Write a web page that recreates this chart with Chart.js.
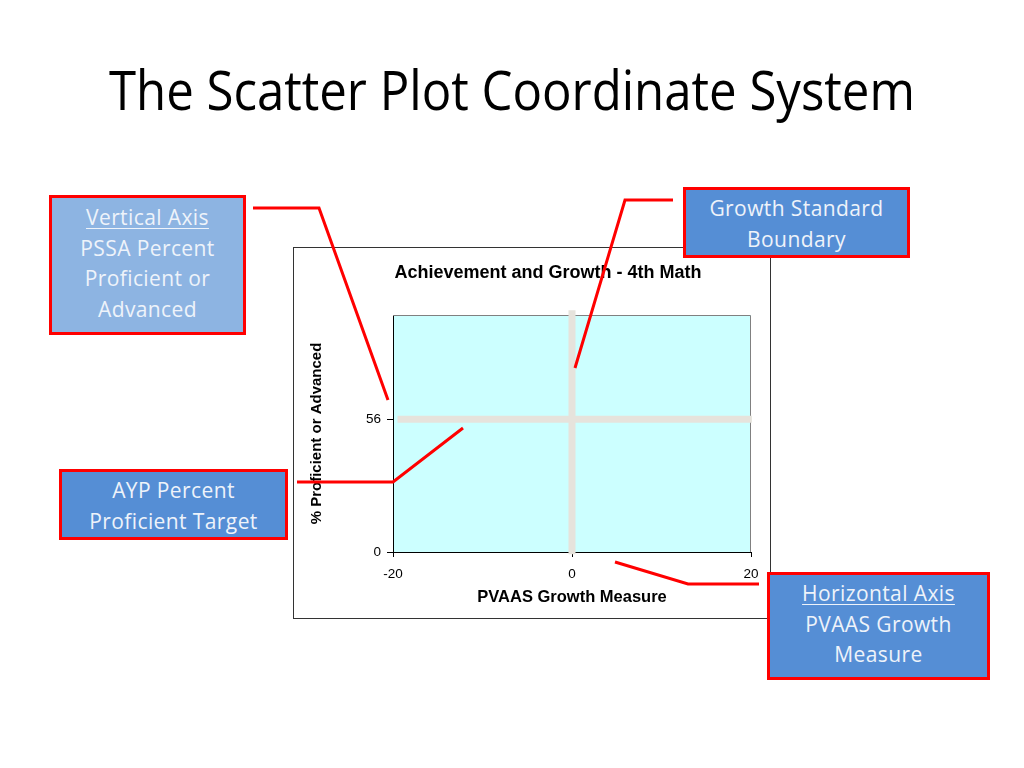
<!DOCTYPE html>
<html>
<head>
<meta charset="utf-8">
<script src="https://cdn.jsdelivr.net/npm/chart.js@4.4.1/dist/chart.umd.min.js"></script>
<style>
  body { margin: 0; background: #fff; }
  #slide { position: relative; width: 1024px; height: 768px; overflow: hidden; background: #fff; font-family: 'Open Sans', sans-serif; }
  #title { position: absolute; left: 0; width: 1024px; top: 62px; text-align: center; font-size: 54px; line-height: 1; color: #000; white-space: nowrap; }
  #title span { display: inline-block; transform-origin: center; }
  #chartBox { position: absolute; left: 293px; top: 247px; width: 476px; height: 370px; border: 1px solid #333; background: #fff; }
  .callout { position: absolute; box-sizing: border-box; border: 3px solid #f00; background: #558ed5; color: #eef3fa;
             display: flex; flex-direction: column; justify-content: center; align-items: center;
             font-size: 21px; letter-spacing: 0.4px; line-height: 30.5px; text-align: center; white-space: nowrap; }
  .callout u { text-decoration-thickness: 1px; text-underline-offset: 3px; }
  #arrows { position: absolute; left: 0; top: 0; }
</style>
</head>
<body>
<div id="slide">
  <div id="title"><span>The Scatter Plot Coordinate System</span></div>

  <div id="chartBox"><canvas id="scatterChart" width="476" height="370"></canvas></div>

  <div class="callout" style="left:49px; top:195px; width:197px; height:140px; padding-bottom:4px; background:#8db4e2;">
    <div><u>Vertical Axis</u></div><div>PSSA Percent</div><div>Proficient or</div><div>Advanced</div>
  </div>
  <div class="callout" style="left:683px; top:187px; width:227px; height:71px; padding-top:2px;">
    <div>Growth Standard</div><div>Boundary</div>
  </div>
  <div class="callout" style="left:59px; top:469px; width:229px; height:71px; padding-top:2px;">
    <div>AYP Percent</div><div>Proficient Target</div>
  </div>
  <div class="callout" style="left:767px; top:572px; width:223px; height:108px; padding-bottom:4px;">
    <div><u>Horizontal Axis</u></div><div>PVAAS Growth</div><div>Measure</div>
  </div>

  <svg id="arrows" width="1024" height="768">
    <g fill="none" stroke="#f00" stroke-width="3">
      <polyline points="253,208 319,208 388,400"/>
      <polyline points="673,200 625,200 575,368"/>
      <polyline points="297,482 393,482 463,428"/>
      <polyline points="615,562 688,584 759,584"/>
    </g>
  </svg>
</div>

<script>
// Data of the chart
const xTicks = [-20, 0, 20];
const yTicks = [0, 56];
const xRange = [-20, 20];
const yRange = [0, 100];
const growthBoundaryX = 0;          // growth standard boundary (vertical)
const growthLineY = [-1, 102];
const aypTargetY = 56;              // AYP percent proficient target (horizontal)
const aypLineX = [-19.5, 20.1];

const lineGray = '#e6e3dc';
const chartFont = '"Liberation Sans", Arial, sans-serif';

// Fill of plot area + gray frame top/right
const plotBackground = {
    id: 'plotBackground',
    beforeDraw(chart) {
        const { ctx, chartArea: a } = chart;
        ctx.save();
        ctx.fillStyle = '#ccffff';
        ctx.fillRect(a.left, a.top, a.right - a.left, a.bottom - a.top);
        ctx.restore();
    },
    beforeDatasetsDraw(chart) {
        const { ctx, chartArea: a } = chart;
        ctx.save();
        ctx.strokeStyle = '#808080';
        ctx.lineWidth = 1;
        ctx.beginPath();
        ctx.moveTo(a.left, a.top + 0.5);
        ctx.lineTo(a.right - 0.5, a.top + 0.5);
        ctx.lineTo(a.right - 0.5, a.bottom);
        ctx.stroke();
        ctx.restore();
    }
};

// Chart title (sits a bit left of the plot centre, like the original)
const chartTitle = {
    id: 'chartTitle',
    afterDraw(chart) {
        const { ctx, chartArea: a } = chart;
        ctx.save();
        ctx.font = 'bold 18px ' + chartFont;
        ctx.fillStyle = '#000';
        ctx.textAlign = 'center';
        ctx.textBaseline = 'middle';
        ctx.fillText('Achievement and Growth - 4th Math', (a.left + a.right) / 2 - 24, a.top - 42);
        ctx.restore();
    }
};

Chart.defaults.font.family = chartFont;
Chart.defaults.color = '#000';

const ctx = document.getElementById('scatterChart').getContext('2d');
new Chart(ctx, {
    type: 'scatter',
    data: {
        datasets: [
            {
                label: 'Growth Standard Boundary',
                data: growthLineY.map(y => ({ x: growthBoundaryX, y })),
                showLine: true,
                borderColor: lineGray,
                borderWidth: 7,
                pointRadius: 0,
                clip: false
            },
            {
                label: 'AYP Percent Proficient Target',
                data: aypLineX.map(x => ({ x, y: aypTargetY })),
                showLine: true,
                borderColor: lineGray,
                borderWidth: 7,
                pointRadius: 0,
                clip: false
            }
        ]
    },
    options: {
        responsive: false,
        animation: false,
        layout: { padding: { left: 14, right: 19, top: 67, bottom: 11 } },
        plugins: {
            legend: { display: false },
            tooltip: { enabled: false }
        },
        scales: {
            x: {
                type: 'linear',
                min: xRange[0],
                max: xRange[1],
                afterBuildTicks: s => { s.ticks = xTicks.map(v => ({ value: v })); },
                afterFit: s => { s.height = 55; },
                grid: { drawOnChartArea: false, tickLength: 5, tickColor: '#000' },
                border: { color: '#000', width: 1 },
                ticks: { color: '#000', font: { size: 13.5 }, padding: 9, maxRotation: 0 },
                title: { display: true, text: 'PVAAS Growth Measure', color: '#000', font: { size: 16.5, weight: 'bold' }, padding: 0 }
            },
            y: {
                type: 'linear',
                min: yRange[0],
                max: yRange[1],
                afterBuildTicks: s => { s.ticks = yTicks.map(v => ({ value: v })); },
                afterFit: s => { s.width = 85; },
                grid: { drawOnChartArea: false, tickLength: 6, tickColor: '#000' },
                border: { color: '#000', width: 1 },
                ticks: { color: '#000', font: { size: 13.5 }, padding: 6 },
                title: { display: true, text: '% Proficient or Advanced', color: '#000', font: { size: 15, weight: 'bold' }, padding: 0 }
            }
        }
    },
    plugins: [plotBackground, chartTitle]
});

// squeeze slide title to the width of the original
const t = document.querySelector('#title span');
t.style.transform = 'scaleX(' + (806 / t.getBoundingClientRect().width) + ')';
</script>
</body>
</html>
